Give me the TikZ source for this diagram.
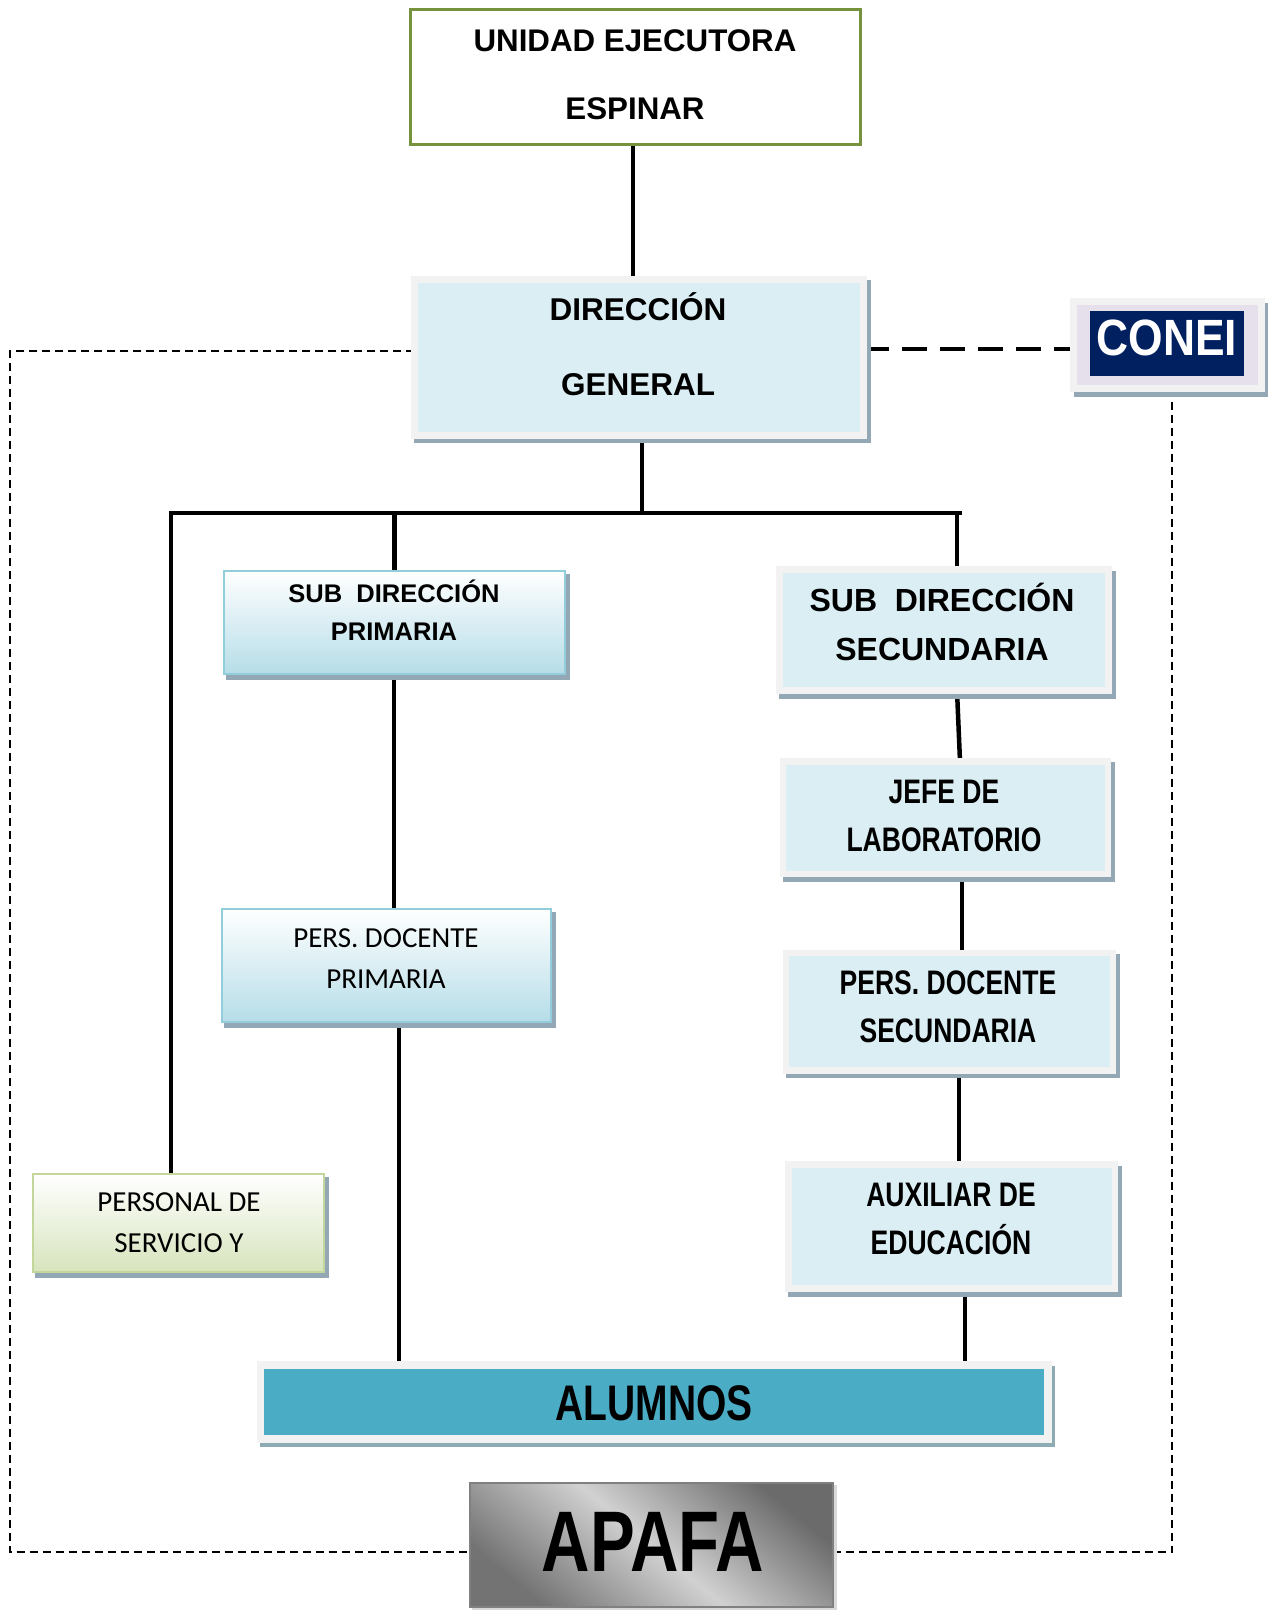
\documentclass[tikz,border=0pt]{standalone}
\usepackage{fontspec}
\setmainfont{Liberation Sans}
\newfontfamily\calibri{Carlito}
\newfontfamily\narrowfont{Liberation Sans}[FakeStretch=0.78]
\newfontfamily\coneifont{Liberation Sans}[FakeStretch=0.87]
\usetikzlibrary{shadows,backgrounds}
\definecolor{framec}{HTML}{F2F2F2}
\definecolor{lblue}{HTML}{DAEEF3}
\definecolor{shadowc}{HTML}{93A7B5}
\definecolor{gborder}{HTML}{92CDDC}
\definecolor{gbottom}{HTML}{B6DDE8}
\definecolor{grborder}{HTML}{C3D69B}
\definecolor{grbottom}{HTML}{D7E4BD}
\definecolor{lavender}{HTML}{E5E0EC}
\definecolor{navy}{HTML}{002060}
\definecolor{teal}{HTML}{4BACC6}
\definecolor{tealshadow}{HTML}{8EAAB2}
\definecolor{olive}{HTML}{76923C}
\tikzset{
  every node/.style={inner sep=0pt, outer sep=0pt},
  sh/.style={drop shadow={shadow xshift=3.5pt, shadow yshift=-4.5pt, fill=shadowc, draw=shadowc, line width=#1, opacity=1}},
  sh/.default=7pt,
  framebox/.style={draw=framec, line width=7pt, fill=lblue, sh=7pt},
  gradbox/.style={draw=gborder, line width=2.5pt, top color=white, bottom color=gbottom, sh=2.5pt},
  greenbox/.style={draw=grborder, line width=2.5pt, top color=white, bottom color=grbottom, sh=2.5pt},
  conn/.style={line width=4.5pt},
  thickdash/.style={line width=4.5pt, dash pattern=on 25pt off 13pt},
  thindash/.style={line width=1.5pt, dash pattern=on 8pt off 5pt},
  lbl/.style={align=center, inner sep=0pt},
}
\begin{document}
\begin{tikzpicture}[x=1pt, y=-1pt]
\useasboundingbox (0,0) rectangle (1273,1610);

% boxes
\node[draw=olive, line width=3.5pt, fill=white, minimum width=450, minimum height=135] (ue) at (635.5,77) {};
\node[framebox, minimum width=449.5, minimum height=156] (dg) at (639,357) {};
\node[framebox, fill=lavender, minimum width=187.5, minimum height=87] (coneibox) at (1167.5,345) {};
\node[fill=navy, minimum width=154, minimum height=65] (coneiin) at (1167,343.5) {};
\node[gradbox, minimum width=341, minimum height=103] (sdp) at (394.5,622.5) {};
\node[framebox, minimum width=329.5, minimum height=121] (sds) at (944,630) {};
\node[framebox, line width=6.5pt, minimum width=325, minimum height=112.5] (jefe) at (945.5,817.5) {};
\node[framebox, line width=6.5pt, minimum width=327, minimum height=117.5] (pds) at (949.5,1011.5) {};
\node[framebox, line width=6.5pt, minimum width=326.5, minimum height=124] (aux) at (951.5,1226.5) {};
\node[gradbox, minimum width=329, minimum height=113] (pdp) at (386.5,965.5) {};
\node[greenbox, minimum width=291, minimum height=98] (ps) at (178.5,1223) {};
\node[draw=framec, fill=teal, line width=7.5pt, minimum width=787.5, minimum height=74,
      drop shadow={shadow xshift=3.5pt, shadow yshift=-4.5pt, fill=tealshadow, draw=tealshadow, line width=7.5pt, opacity=1}] (alumnos) at (654,1402) {};
\node[draw=black!50, line width=2.5pt, top color=black!58, bottom color=black!55, middle color=black!18, shading angle=-40,
      drop shadow={shadow xshift=3pt, shadow yshift=-3pt, fill=black!15, draw=black!15, line width=2.5pt, opacity=1},
      minimum width=363, minimum height=124] (apafa) at (651.5,1545) {};

% texts
\node[lbl, font=\bfseries\fontsize{31.3}{68}\selectfont] (uet) at (635,75) {UNIDAD EJECUTORA\\ESPINAR};
\node[lbl, font=\bfseries\fontsize{31.5}{75}\selectfont] (dgt) at (638,344.5) {DIRECCIÓN\\GENERAL};
\node[lbl, text=white, font=\coneifont\bfseries\fontsize{51}{60}\selectfont] (coneit) at (1167,338) {CONEI};
\node[lbl, font=\bfseries\fontsize{25.5}{38}\selectfont] (sdpt) at (394,610) {SUB\ \ DIRECCIÓN\\PRIMARIA};
\node[lbl, font=\bfseries\fontsize{32}{49}\selectfont] (sdst) at (942,622) {SUB\ \ DIRECCIÓN\\SECUNDARIA};
\node[lbl, font=\narrowfont\bfseries\fontsize{34}{48}\selectfont] (jefet) at (944,816) {JEFE DE\\LABORATORIO};
\node[lbl, font=\narrowfont\bfseries\fontsize{34}{48}\selectfont] (pdst) at (948,1007) {PERS. DOCENTE\\SECUNDARIA};
\node[lbl, font=\narrowfont\bfseries\fontsize{34}{48}\selectfont] (auxt) at (951,1219) {AUXILIAR DE\\EDUCACIÓN};
\node[lbl, font=\calibri\fontsize{29}{41}\selectfont] (pdpt) at (386,958.5) {PERS. DOCENTE\\PRIMARIA};
\node[lbl, font=\calibri\fontsize{29}{41}\selectfont] (pst) at (179,1222.5) {PERSONAL DE\\SERVICIO Y};
\node[lbl, font=\narrowfont\bfseries\fontsize{50}{60}\selectfont] (alt) at (654,1403) {ALUMNOS};
\node[lbl, font=\narrowfont\bfseries\fontsize{86}{100}\selectfont] (apt) at (653,1542) {APAFA};

% connectors
\begin{scope}[on background layer]
\coordinate (busL) at (171,513);
\coordinate (busR) at (960,513);
\draw[conn] (ue.south -| 633,0) -- (633,0 |- dg.north);
\draw[conn] (dg.south -| 642,0) -- (642,0 |- busL);
\draw[conn, line cap=rect] (busL) -- (busR);
\draw[conn] (busL) -- (busL |- ps.north);
\draw[conn] (busL -| sdp.north) -- (sdp.north);
\draw[conn] (busR -| 957,0) -- (957,0 |- sds.north);
\draw[conn] ([xshift=13pt]sds.south) -- ([xshift=14.5pt]jefe.north);
\draw[conn] ([xshift=16.5pt]jefe.south) -- (962,0 |- pds.north);
\draw[conn] ([xshift=9.5pt]pds.south) -- (959,0 |- aux.north);
\draw[conn] ([xshift=13.5pt]aux.south) -- (965,0 |- alumnos.north);
\draw[conn] (sdp.south -| 394,0) -- (394,0 |- pdp.north);
\draw[conn] (pdp.south -| 399,0) -- (399,0 |- alumnos.north);
\draw[thickdash] ([yshift=8pt]dg.east) -- ([yshift=8pt]dg.east -| coneibox.west);
\coordinate (lc) at (10,1552);
\coordinate (rc) at (1172,1552);
\draw[thindash] ([yshift=6pt]dg.west) -| (lc) -- (lc -| apafa.west);
\draw[thindash] (coneibox.south -| rc) -- (rc) -- (rc -| apafa.east);
\end{scope}
\end{tikzpicture}
\end{document}
